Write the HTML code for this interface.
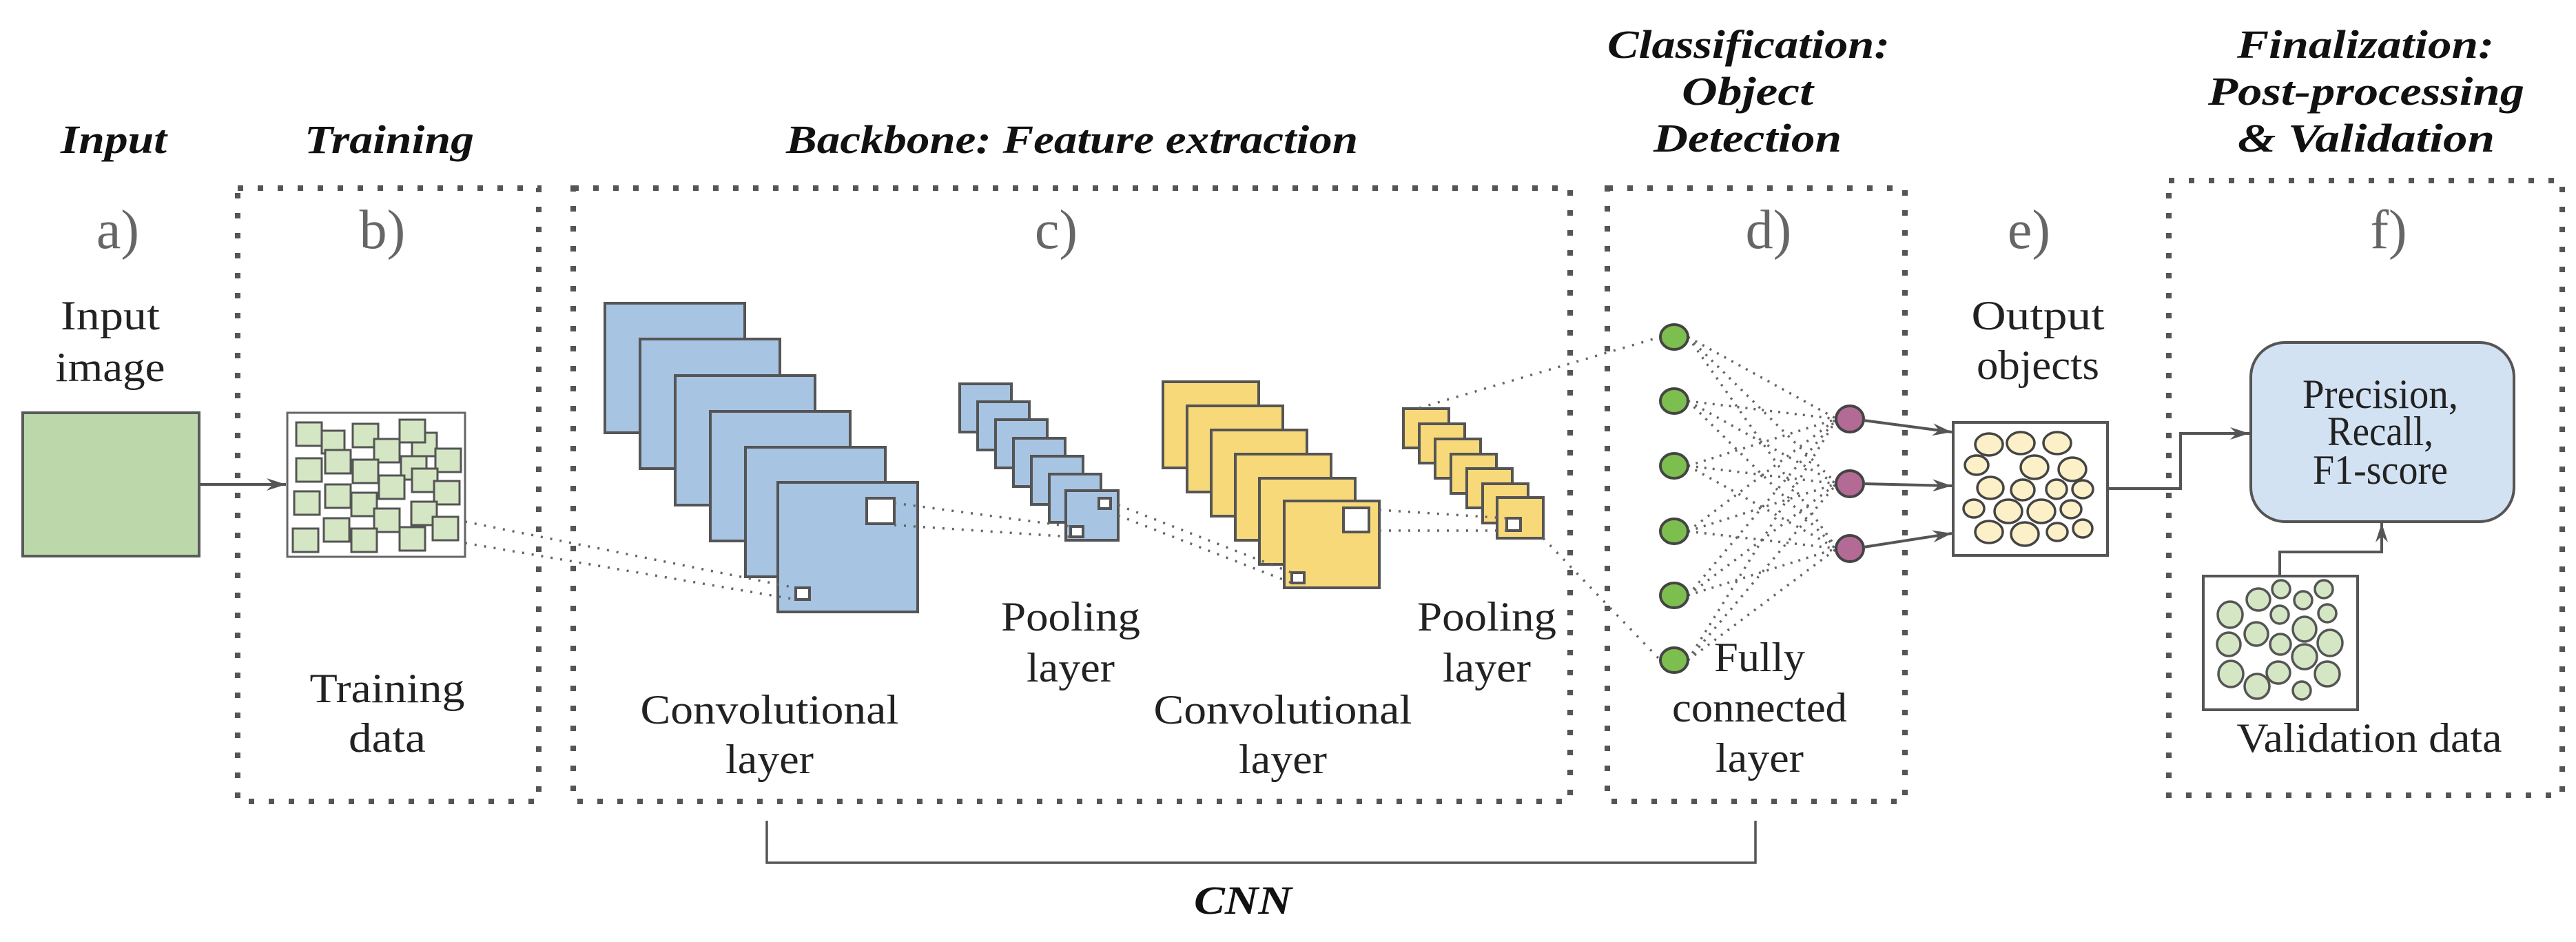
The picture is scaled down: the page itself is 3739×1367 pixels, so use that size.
<!DOCTYPE html>
<html><head><meta charset="utf-8"><style>
html,body{margin:0;padding:0;background:#fff}
svg{display:block}
.t{font-family:"Liberation Serif",serif;font-weight:bold;font-style:italic;font-size:58px;fill:#111}
.b{font-family:"Liberation Serif",serif;font-size:60px;fill:#222}
.l{font-family:"Liberation Serif",serif;font-size:80px;fill:#666}
</style></head><body>
<svg width="3739" height="1367" viewBox="0 0 3739 1367" xmlns="http://www.w3.org/2000/svg">
<defs>
<marker id="ar" markerWidth="30" markerHeight="20" refX="28" refY="10" orient="auto" markerUnits="userSpaceOnUse">
<path d="M0,1 L28,10 L0,19 L9,10 z" fill="#555"/>
</marker>
</defs>
<rect width="3739" height="1367" fill="#fff"/>

<text class="t" x="88" y="222" textLength="154" lengthAdjust="spacingAndGlyphs">Input</text>
<text class="t" x="442" y="222" textLength="246" lengthAdjust="spacingAndGlyphs">Training</text>
<text class="t" x="1141" y="222" textLength="830" lengthAdjust="spacingAndGlyphs">Backbone: Feature extraction</text>
<text class="t" x="2333" y="84" textLength="410" lengthAdjust="spacingAndGlyphs">Classification:</text>
<text class="t" x="2441" y="152" textLength="191" lengthAdjust="spacingAndGlyphs">Object</text>
<text class="t" x="2400" y="220" textLength="273" lengthAdjust="spacingAndGlyphs">Detection</text>
<text class="t" x="3247" y="84" textLength="373" lengthAdjust="spacingAndGlyphs">Finalization:</text>
<text class="t" x="3205" y="152" textLength="459" lengthAdjust="spacingAndGlyphs">Post-processing</text>
<text class="t" x="3248" y="220" textLength="373" lengthAdjust="spacingAndGlyphs">&amp; Validation</text>
<text class="t" x="1733" y="1326" textLength="142" lengthAdjust="spacingAndGlyphs">CNN</text>

<g fill="none" stroke="#555" stroke-width="8" stroke-dasharray="8 21">
<rect x="345" y="273" width="437" height="890"/>
<rect x="832" y="273" width="1447" height="890"/>
<rect x="2333" y="273" width="432" height="890"/>
<rect x="3148" y="262" width="571" height="892"/>
</g>

<g class="l" text-anchor="middle">
<text x="171" y="360">a)</text>
<text x="555" y="360">b)</text>
<text x="1533" y="360">c)</text>
<text x="2567" y="360">d)</text>
<text x="2945" y="360">e)</text>
<text x="3467" y="360">f)</text>
</g>

<g class="b" text-anchor="middle">
<text x="160" y="478" textLength="144" lengthAdjust="spacingAndGlyphs">Input</text>
<text x="160" y="553" textLength="159" lengthAdjust="spacingAndGlyphs">image</text>
<text x="562" y="1019" textLength="225" lengthAdjust="spacingAndGlyphs">Training</text>
<text x="562" y="1091" textLength="112" lengthAdjust="spacingAndGlyphs">data</text>
<text x="1117" y="1050" textLength="375" lengthAdjust="spacingAndGlyphs">Convolutional</text>
<text x="1117" y="1122" textLength="128" lengthAdjust="spacingAndGlyphs">layer</text>
<text x="1554" y="915" textLength="202" lengthAdjust="spacingAndGlyphs">Pooling</text>
<text x="1554" y="989" textLength="128" lengthAdjust="spacingAndGlyphs">layer</text>
<text x="1862" y="1050" textLength="375" lengthAdjust="spacingAndGlyphs">Convolutional</text>
<text x="1862" y="1122" textLength="128" lengthAdjust="spacingAndGlyphs">layer</text>
<text x="2158" y="915" textLength="202" lengthAdjust="spacingAndGlyphs">Pooling</text>
<text x="2158" y="989" textLength="128" lengthAdjust="spacingAndGlyphs">layer</text>
<text x="2554" y="974" textLength="132" lengthAdjust="spacingAndGlyphs">Fully</text>
<text x="2554" y="1047" textLength="254" lengthAdjust="spacingAndGlyphs">connected</text>
<text x="2554" y="1120" textLength="128" lengthAdjust="spacingAndGlyphs">layer</text>
<text x="2958" y="478" textLength="193" lengthAdjust="spacingAndGlyphs">Output</text>
<text x="2958" y="550" textLength="178" lengthAdjust="spacingAndGlyphs">objects</text>
<text x="3439" y="1091" textLength="385" lengthAdjust="spacingAndGlyphs">Validation data</text>
</g>

<rect x="33" y="599" width="256" height="208" fill="#bcd7aa" stroke="#5a5a5a" stroke-width="4"/>
<line x1="289" y1="703" x2="415" y2="703" stroke="#555" stroke-width="4" marker-end="url(#ar)"/>

<rect x="417" y="599" width="258" height="209" fill="#fff" stroke="#666" stroke-width="3"/>
<g fill="#d4e6c4" stroke="#555" stroke-width="3">
<rect x="467" y="625" width="33" height="33"/><rect x="598" y="628" width="36" height="34"/>
<rect x="430" y="613" width="37" height="34"/><rect x="512" y="615" width="37" height="34"/>
<rect x="580" y="609" width="37" height="33"/><rect x="543" y="637" width="37" height="34"/>
<rect x="430" y="665" width="37" height="34"/><rect x="512" y="667" width="37" height="34"/>
<rect x="472" y="653" width="37" height="34"/><rect x="632" y="651" width="37" height="34"/>
<rect x="582" y="662" width="37" height="34"/><rect x="598" y="680" width="37" height="34"/>
<rect x="550" y="690" width="37" height="34"/><rect x="472" y="703" width="37" height="34"/>
<rect x="427" y="713" width="37" height="34"/><rect x="510" y="715" width="37" height="34"/>
<rect x="630" y="698" width="37" height="34"/><rect x="597" y="728" width="37" height="34"/>
<rect x="543" y="738" width="37" height="34"/><rect x="470" y="752" width="37" height="34"/>
<rect x="628" y="750" width="37" height="34"/><rect x="425" y="767" width="37" height="34"/>
<rect x="510" y="767" width="37" height="34"/><rect x="580" y="765" width="37" height="34"/>
</g>

<g fill="#a8c4e3" stroke="#555" stroke-width="4">
<rect x="878" y="440" width="203" height="188"/>
<rect x="929" y="492" width="203" height="188"/>
<rect x="980" y="545" width="203" height="188"/>
<rect x="1031" y="597" width="203" height="188"/>
<rect x="1082" y="649" width="203" height="188"/>
<rect x="1129" y="700" width="203" height="188"/>
</g>
<g fill="#fff" stroke="#555" stroke-width="4">
<rect x="1258" y="723" width="40" height="37"/>
<rect x="1155" y="853" width="20" height="17"/>
</g>

<g fill="#a8c4e3" stroke="#555" stroke-width="4">
<rect x="1393" y="557" width="75" height="70"/>
<rect x="1419" y="583" width="75" height="70"/>
<rect x="1445" y="609" width="75" height="70"/>
<rect x="1471" y="636" width="75" height="70"/>
<rect x="1497" y="662" width="75" height="70"/>
<rect x="1523" y="688" width="75" height="70"/>
<rect x="1547" y="712" width="76" height="72"/>
</g>
<g fill="#fff" stroke="#555" stroke-width="4">
<rect x="1595" y="723" width="17" height="15"/>
<rect x="1554" y="764" width="18" height="15"/>
</g>

<g fill="#f8d97a" stroke="#555" stroke-width="4">
<rect x="1688" y="554" width="139" height="125"/>
<rect x="1723" y="589" width="139" height="125"/>
<rect x="1758" y="624" width="139" height="125"/>
<rect x="1793" y="659" width="139" height="125"/>
<rect x="1828" y="694" width="139" height="125"/>
<rect x="1864" y="727" width="138" height="126"/>
</g>
<g fill="#fff" stroke="#555" stroke-width="4">
<rect x="1950" y="737" width="37" height="35"/>
<rect x="1875" y="831" width="18" height="15"/>
</g>

<g fill="#f8d97a" stroke="#555" stroke-width="4">
<rect x="2037" y="593" width="66" height="57"/>
<rect x="2060" y="615" width="66" height="57"/>
<rect x="2083" y="637" width="66" height="57"/>
<rect x="2106" y="659" width="66" height="57"/>
<rect x="2129" y="680" width="66" height="57"/>
<rect x="2152" y="702" width="66" height="57"/>
<rect x="2173" y="722" width="67" height="59"/>
</g>
<rect x="2187" y="752" width="20" height="18" fill="#fff" stroke="#555" stroke-width="4"/>

<g stroke="#666" stroke-width="3.5" stroke-dasharray="3 11" fill="none">
<line x1="675" y1="757" x2="1155" y2="853"/>
<line x1="675" y1="788" x2="1155" y2="870"/>
<line x1="1298" y1="730" x2="1554" y2="764"/>
<line x1="1298" y1="762" x2="1554" y2="779"/>
<line x1="1623" y1="733" x2="1875" y2="831"/>
<line x1="1623" y1="748" x2="1875" y2="846"/>
<line x1="2002" y1="740" x2="2187" y2="752"/>
<line x1="2002" y1="770" x2="2187" y2="770"/>
<line x1="2060" y1="592" x2="2410" y2="489"/>
<line x1="2240" y1="781" x2="2410" y2="958"/>
</g>
<g stroke="#666" stroke-width="3.5" stroke-dasharray="3 9" fill="none">
<line x1="2450" y1="489" x2="2666" y2="608"/><line x1="2450" y1="489" x2="2666" y2="702"/><line x1="2450" y1="489" x2="2666" y2="796"/>
<line x1="2450" y1="582" x2="2666" y2="608"/><line x1="2450" y1="582" x2="2666" y2="702"/><line x1="2450" y1="582" x2="2666" y2="796"/>
<line x1="2450" y1="676" x2="2666" y2="608"/><line x1="2450" y1="676" x2="2666" y2="702"/><line x1="2450" y1="676" x2="2666" y2="796"/>
<line x1="2450" y1="771" x2="2666" y2="608"/><line x1="2450" y1="771" x2="2666" y2="702"/><line x1="2450" y1="771" x2="2666" y2="796"/>
<line x1="2450" y1="864" x2="2666" y2="608"/><line x1="2450" y1="864" x2="2666" y2="702"/><line x1="2450" y1="864" x2="2666" y2="796"/>
<line x1="2450" y1="958" x2="2666" y2="608"/><line x1="2450" y1="958" x2="2666" y2="702"/><line x1="2450" y1="958" x2="2666" y2="796"/>
</g>

<g fill="#7dbf4f" stroke="#444" stroke-width="4">
<ellipse cx="2430" cy="489" rx="20" ry="18"/>
<ellipse cx="2430" cy="582" rx="20" ry="18"/>
<ellipse cx="2430" cy="676" rx="20" ry="18"/>
<ellipse cx="2430" cy="771" rx="20" ry="18"/>
<ellipse cx="2430" cy="864" rx="20" ry="18"/>
<ellipse cx="2430" cy="958" rx="20" ry="18"/>
</g>
<g fill="#b36b95" stroke="#444" stroke-width="4">
<ellipse cx="2685" cy="608" rx="20" ry="19"/>
<ellipse cx="2685" cy="702" rx="20" ry="19"/>
<ellipse cx="2685" cy="796" rx="20" ry="19"/>
</g>
<g stroke="#555" stroke-width="4" fill="none">
<line x1="2705" y1="610" x2="2833" y2="627" marker-end="url(#ar)"/>
<line x1="2705" y1="702" x2="2833" y2="705" marker-end="url(#ar)"/>
<line x1="2705" y1="794" x2="2833" y2="774" marker-end="url(#ar)"/>
</g>

<rect x="2835" y="613" width="224" height="193" fill="#fff" stroke="#555" stroke-width="4"/>
<g fill="#fcf0c8" stroke="#444" stroke-width="3.5">
<ellipse cx="2887" cy="645" rx="20" ry="16"/><ellipse cx="2933" cy="643" rx="20" ry="16"/><ellipse cx="2986" cy="643" rx="20" ry="16"/>
<ellipse cx="2869" cy="675" rx="17" ry="14"/><ellipse cx="2953" cy="678" rx="20" ry="17"/><ellipse cx="3008" cy="681" rx="20" ry="17"/>
<ellipse cx="2889" cy="708" rx="19" ry="16"/><ellipse cx="2936" cy="711" rx="17" ry="15"/><ellipse cx="2985" cy="710" rx="15" ry="14"/><ellipse cx="3023" cy="710" rx="15" ry="13"/>
<ellipse cx="2865" cy="738" rx="15" ry="13"/><ellipse cx="2915" cy="742" rx="20" ry="17"/><ellipse cx="2963" cy="742" rx="20" ry="17"/><ellipse cx="3006" cy="739" rx="15" ry="13"/>
<ellipse cx="2887" cy="772" rx="20" ry="16"/><ellipse cx="2939" cy="775" rx="20" ry="17"/><ellipse cx="2986" cy="772" rx="15" ry="13"/><ellipse cx="3023" cy="767" rx="14" ry="13"/>
</g>
<polyline points="3059,709 3165,709 3165,629 3265,629" fill="none" stroke="#555" stroke-width="4" marker-end="url(#ar)"/>

<rect x="3267" y="497" width="382" height="260" rx="50" ry="50" fill="#d3e2f2" stroke="#555" stroke-width="4"/>
<g class="b" text-anchor="middle">
<text x="3455" y="592" textLength="226" lengthAdjust="spacingAndGlyphs">Precision,</text>
<text x="3455" y="646" textLength="154" lengthAdjust="spacingAndGlyphs">Recall,</text>
<text x="3455" y="702" textLength="196" lengthAdjust="spacingAndGlyphs">F1-score</text>
</g>

<rect x="3198" y="836" width="224" height="194" fill="#fff" stroke="#555" stroke-width="4"/>
<polyline points="3309,836 3309,801 3457,801 3457,759" fill="none" stroke="#555" stroke-width="4" marker-end="url(#ar)"/>
<g fill="#d4e6c4" stroke="#555" stroke-width="3.5">
<ellipse cx="3237" cy="892" rx="18" ry="19"/><ellipse cx="3278" cy="870" rx="17" ry="16"/><ellipse cx="3311" cy="855" rx="13" ry="13"/>
<ellipse cx="3343" cy="871" rx="13" ry="13"/><ellipse cx="3373" cy="855" rx="13" ry="13"/><ellipse cx="3309" cy="892" rx="13" ry="13"/>
<ellipse cx="3378" cy="890" rx="13" ry="13"/><ellipse cx="3275" cy="920" rx="17" ry="17"/><ellipse cx="3345" cy="913" rx="17" ry="18"/>
<ellipse cx="3235" cy="935" rx="17" ry="17"/><ellipse cx="3310" cy="935" rx="15" ry="15"/><ellipse cx="3382" cy="933" rx="18" ry="19"/>
<ellipse cx="3345" cy="953" rx="18" ry="18"/><ellipse cx="3238" cy="978" rx="18" ry="19"/><ellipse cx="3276" cy="996" rx="18" ry="18"/>
<ellipse cx="3307" cy="976" rx="17" ry="16"/><ellipse cx="3378" cy="978" rx="18" ry="18"/><ellipse cx="3341" cy="1002" rx="13" ry="13"/>
</g>

<polyline points="1113,1191 1113,1252 2548,1252 2548,1191" fill="none" stroke="#555" stroke-width="3.5"/>
</svg>
</body></html>
